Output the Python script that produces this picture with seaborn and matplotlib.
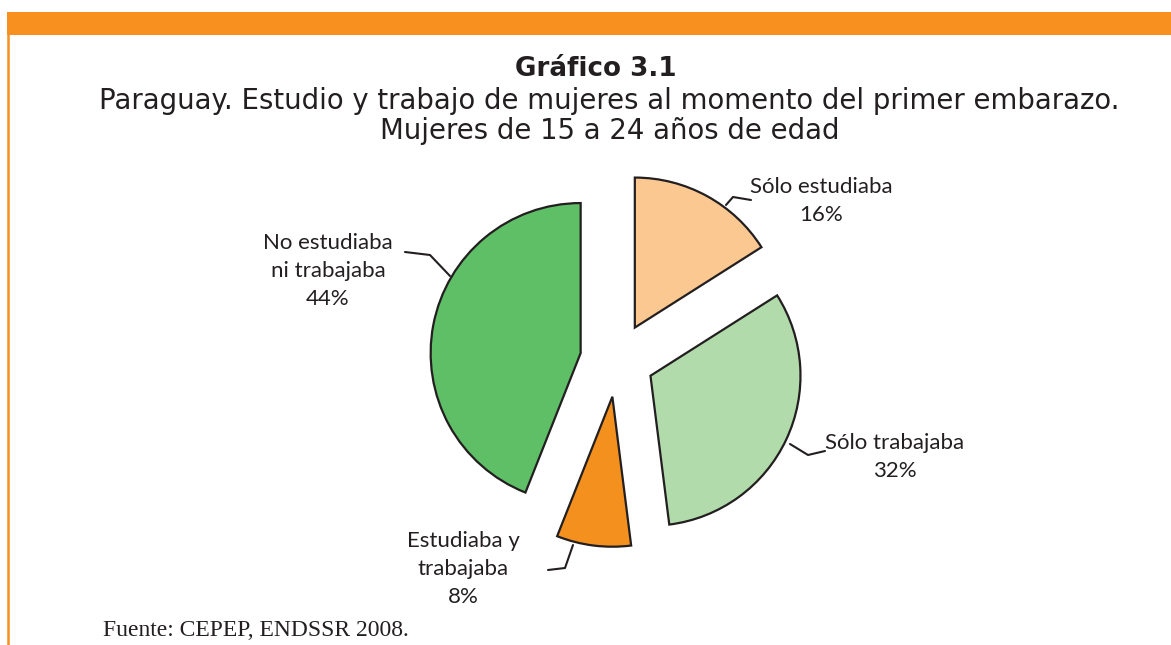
import matplotlib
matplotlib.use("Agg")
import matplotlib.pyplot as plt
import seaborn as sns

# Datos del gráfico
categorias = ["Sólo estudiaba", "Sólo trabajaba", "Estudiaba y\ntrabajaba", "No estudiaba\nni trabajaba"]
porcentajes = [16, 32, 8, 44]
colores = ["#FAC890", "#B1DBAB", "#F4901E", "#5EBF67"]

sns.set_theme(style="white")
plt.rcParams['font.family'] = ['Lato', 'DejaVu Sans']

W, H = 1171, 645
fig = plt.figure(figsize=(W / 100, H / 100), dpi=100)
ax = fig.add_axes([0, 0, 1, 1])

# pastel con porciones separadas
ax.pie(porcentajes, colors=colores, startangle=90, counterclock=False,
       center=(617, H - 360), radius=150, explode=[37] * 4,
       wedgeprops=dict(edgecolor="#231F20", linewidth=1.6))
ax.set_xlim(0, W)
ax.set_ylim(0, H)
ax.set_aspect('equal')
ax.axis('off')

# barra naranja superior y borde izquierdo
ax.add_patch(plt.Rectangle((7, H - 35), W - 7, 23, color="#F7901E", lw=0))
ax.plot([8, 8], [0, H - 35], color="#F7901E", lw=1.8)

# títulos
ax.text(W / 2 + 10, H - 69, "Gráfico 3.1", ha='center', va='center',
        fontsize=18.8, fontweight='bold', family='DejaVu Sans', color="#231F20")
ax.text(W / 2 + 24, H - 101, "Paraguay. Estudio y trabajo de mujeres al momento del primer embarazo.",
        ha='center', va='center', fontsize=19.8, family='DejaVu Sans', color="#231F20")
ax.text(W / 2 + 24, H - 131, "Mujeres de 15 a 24 años de edad",
        ha='center', va='center', fontsize=19.8, family='DejaVu Sans', color="#231F20")

# etiquetas con líneas guía
etiquetas = [f"{c}\n{p}%" for c, p in zip(categorias, porcentajes)]
pos_texto = [(821, 201), (895, 457), (463, 569), (328, 271)]
guias = [
    [(726, 205), (733, 197), (751, 200)],
    [(790, 444), (808, 455), (825, 451)],
    [(573, 545), (565, 568), (548, 570)],
    [(450, 276), (430, 255), (405, 252)],
]
for txt, (tx, ty), g in zip(etiquetas, pos_texto, guias):
    ax.text(tx, H - ty, txt, ha='center', va='center', fontsize=16,
            linespacing=1.47, color="#231F20")
    ax.plot([p[0] for p in g], [H - p[1] for p in g], color="#231F20", lw=1.5)

ax.text(103, H - 630, "Fuente: CEPEP, ENDSSR 2008.", ha='left', va='center',
        fontsize=17, family='Liberation Serif', color="#231F20")

fig.savefig("out.png", dpi=100)
